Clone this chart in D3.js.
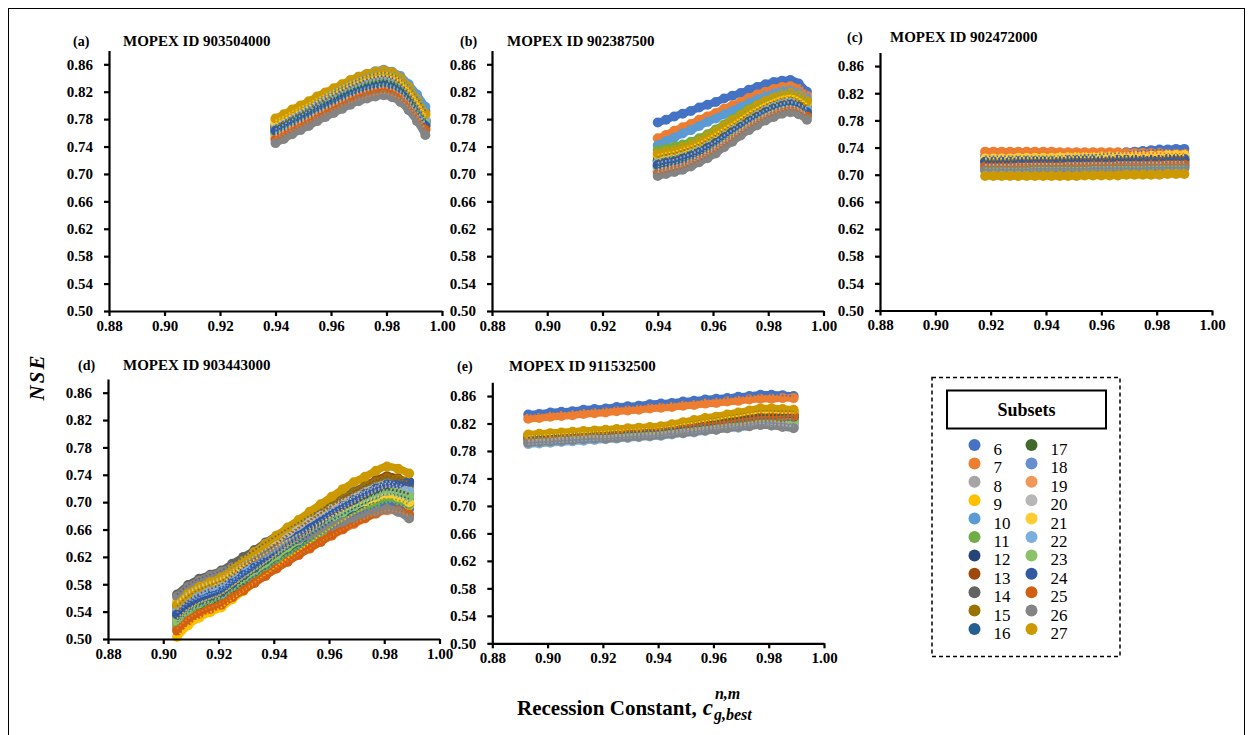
<!DOCTYPE html>
<html>
<head>
<meta charset="utf-8">
<script src="https://cdn.jsdelivr.net/npm/d3@7/dist/d3.min.js"></script>
<style>
  html, body { margin: 0; padding: 0; background: #fff; }
  svg { display: block; }
  text { font-family: "Liberation Serif", "Times New Roman", serif; }
</style>
</head>
<body>
<svg id="chart" width="1253" height="735"></svg>
<script>
// Calibration subsets (one series per subset) and their colours
const subsets = [6, 7, 8, 9, 10, 11, 12, 13, 14, 15, 16, 17, 18, 19, 20, 21, 22, 23, 24, 25, 26, 27];
const subsetColors = ["#4472C4", "#ED7D31", "#A5A5A5", "#FFC000", "#5B9BD5", "#70AD47",
  "#264478", "#9E480E", "#636363", "#997300", "#255E91", "#43682B",
  "#698ED0", "#F1975A", "#B7B7B7", "#FFCD33", "#7CAFDD", "#8CC168",
  "#335AA1", "#D26012", "#848484", "#CC9A00"];

const xTicks = [0.88, 0.90, 0.92, 0.94, 0.96, 0.98, 1.00];
const yTicks = [0.50, 0.54, 0.58, 0.62, 0.66, 0.70, 0.74, 0.78, 0.82, 0.86];

// Recession constant values tested in each basin
const xA = [0.940, 0.943, 0.946, 0.949, 0.952, 0.955, 0.958, 0.961, 0.964, 0.967, 0.970, 0.973, 0.976, 0.979, 0.982, 0.985, 0.988, 0.991, 0.994];
const xB = [0.940, 0.943, 0.946, 0.949, 0.952, 0.955, 0.958, 0.961, 0.964, 0.967, 0.970, 0.973, 0.976, 0.979, 0.982, 0.985, 0.988, 0.991, 0.994];
const xC = [0.918, 0.921, 0.924, 0.927, 0.930, 0.933, 0.936, 0.939, 0.942, 0.945, 0.948, 0.951, 0.954, 0.957, 0.960, 0.963, 0.966, 0.969, 0.972, 0.975, 0.978, 0.981, 0.984, 0.987, 0.990];
const xD = [0.905, 0.909, 0.913, 0.917, 0.921, 0.925, 0.929, 0.933, 0.937, 0.941, 0.945, 0.949, 0.953, 0.957, 0.961, 0.965, 0.969, 0.973, 0.977, 0.981, 0.985, 0.989];
const xE = [0.893, 0.897, 0.901, 0.905, 0.909, 0.913, 0.917, 0.921, 0.925, 0.929, 0.933, 0.937, 0.941, 0.945, 0.949, 0.953, 0.957, 0.961, 0.965, 0.969, 0.973, 0.977, 0.981, 0.985, 0.989];

// NSE (x1000) per subset, rows ordered as in `subsets`
const nseA = [
  [770,777,784,791,798,805,812,819,826,832,838,843,846,848,845,838,827,811,792],
  [752,758,764,770,776,782,788,794,800,805,809,813,816,818,815,809,798,783,765],
  [758,764,771,777,783,790,796,802,808,814,819,823,826,828,825,818,806,790,770],
  [778,784,791,797,803,810,816,822,828,834,839,843,846,848,845,837,824,807,786],
  [772,779,786,794,801,808,815,822,830,836,842,846,850,852,849,843,831,816,798],
  [762,769,776,782,789,796,803,809,816,822,827,832,835,837,834,827,815,798,778],
  [766,772,779,785,791,798,804,810,816,822,827,831,834,836,833,826,813,796,776],
  [768,775,782,788,795,802,809,815,822,828,833,838,841,843,840,832,819,801,780],
  [760,766,773,779,785,792,798,804,810,816,821,825,828,830,827,820,808,792,772],
  [770,776,783,789,795,802,808,814,820,826,831,835,838,840,837,829,816,799,778],
  [764,770,777,783,789,796,802,808,814,820,825,829,832,834,831,824,811,794,774],
  [767,773,780,786,792,799,805,811,817,823,828,832,835,837,834,827,814,797,777],
  [762,768,775,781,787,794,800,806,812,818,823,827,830,832,829,822,810,794,775],
  [756,762,769,775,781,788,794,800,806,812,817,821,824,826,823,816,804,788,768],
  [758,764,771,777,783,790,796,802,808,814,819,823,826,828,825,818,806,790,771],
  [774,780,787,793,799,806,812,818,824,830,835,839,842,844,841,834,821,804,784],
  [765,772,779,785,792,799,806,812,819,825,830,835,838,840,837,830,817,800,779],
  [760,766,773,779,785,792,798,804,810,816,821,825,828,830,827,820,808,792,773],
  [763,769,775,781,787,793,799,805,811,816,820,824,827,829,826,819,807,790,770],
  [750,756,763,769,775,782,788,794,800,806,811,815,818,820,817,810,799,783,764],
  [745,751,758,764,770,777,783,789,795,801,806,810,813,815,812,805,793,777,757],
  [781,787,794,800,806,813,819,825,831,837,842,846,849,851,848,840,827,809,788]
];

const nseB = [
  [775,779,784,788,792,797,801,805,810,814,818,823,827,831,834,836,837,832,820],
  [752,757,763,768,773,779,784,789,795,800,805,811,816,820,824,827,828,824,814],
  [708,711,714,717,722,727,734,741,749,758,766,774,782,788,794,798,800,796,788],
  [722,725,728,731,736,742,748,755,764,772,781,789,796,803,808,813,815,811,803],
  [742,748,753,759,764,770,776,781,787,792,798,804,809,814,818,821,822,818,810],
  [735,737,740,743,747,752,758,765,772,780,787,795,801,807,812,816,818,814,806],
  [712,715,717,721,726,731,737,745,753,761,769,778,785,791,797,801,803,800,793],
  [718,721,723,727,732,737,743,750,759,767,775,783,790,796,802,806,808,805,798],
  [704,707,710,713,718,724,730,737,746,754,763,771,778,785,790,795,797,794,787],
  [725,728,730,734,738,743,749,756,764,772,780,788,795,801,806,810,812,808,800],
  [710,713,716,719,724,729,736,743,751,760,768,776,784,790,796,800,802,799,791],
  [720,723,725,729,733,738,744,751,759,766,774,782,789,795,800,804,806,803,795],
  [714,717,719,723,727,733,739,746,754,762,770,778,785,791,797,801,803,800,793],
  [703,706,709,712,717,723,729,736,745,753,762,770,777,784,789,794,796,793,786],
  [706,709,712,715,720,726,732,739,748,756,765,773,780,787,792,797,799,796,788],
  [728,731,733,737,741,746,752,759,767,774,782,790,797,803,808,812,814,810,802],
  [716,719,721,725,729,735,741,748,756,764,772,780,787,793,799,803,805,802,795],
  [711,714,716,720,724,730,736,743,751,759,767,775,782,788,794,798,800,797,790],
  [713,716,718,722,726,731,738,745,753,761,768,776,783,790,795,799,801,798,790],
  [700,703,706,709,714,720,726,734,742,751,759,768,775,782,787,792,794,791,784],
  [697,700,703,706,711,717,723,730,739,747,756,764,771,778,783,788,790,787,779],
  [730,733,735,739,743,748,755,762,770,778,785,793,800,807,812,816,818,814,806]
];

const nseC = [
  [727,727,727,727,727,727,727,727,727,727,728,728,729,729,730,731,732,733,734,735,736,737,737,738,738],
  [734,734,734,734,734,734,734,734,734,733,733,733,733,733,733,733,733,732,732,732,732,732,731,731,731],
  [712,712,712,712,712,712,712,713,713,713,713,713,713,713,713,713,713,714,714,714,714,714,714,714,714],
  [722,722,722,722,723,723,723,723,723,724,724,724,724,724,725,725,725,725,726,726,726,726,727,727,727],
  [716,716,716,717,717,717,717,718,718,718,718,719,719,719,719,720,720,720,720,721,721,721,721,722,722],
  [708,708,708,708,709,709,709,709,709,709,710,710,710,710,710,710,711,711,711,711,711,711,712,712,712],
  [718,718,718,718,719,719,719,719,719,719,720,720,720,720,720,720,721,721,721,721,721,721,722,722,722],
  [720,720,720,721,721,721,721,722,722,722,722,723,723,723,723,724,724,724,724,725,725,725,725,726,726],
  [717,717,717,717,717,717,718,718,718,718,718,718,718,719,719,719,719,719,719,719,720,720,720,720,720],
  [721,721,721,721,721,721,722,722,722,722,722,722,722,723,723,723,723,723,723,723,724,724,724,724,724],
  [714,714,714,714,715,715,715,715,715,715,716,716,716,716,716,716,717,717,717,717,717,717,718,718,718],
  [711,711,711,711,711,711,712,712,712,712,712,712,712,713,713,713,713,713,713,713,714,714,714,714,714],
  [709,709,709,709,709,709,709,710,710,710,710,710,710,710,710,710,710,711,711,711,711,711,711,711,711],
  [713,713,713,713,713,713,714,714,714,714,714,714,714,715,715,715,715,715,715,715,716,716,716,716,716],
  [715,715,715,715,716,716,716,716,716,716,717,717,717,717,717,717,718,718,718,718,718,718,719,719,719],
  [724,724,724,724,725,725,725,725,725,726,726,726,726,726,727,727,727,727,728,728,728,728,729,729,729],
  [706,706,706,706,706,706,707,707,707,707,707,707,707,708,708,708,708,708,708,708,709,709,709,709,709],
  [710,710,710,710,710,710,711,711,711,711,711,711,711,712,712,712,712,712,712,712,713,713,713,713,713],
  [719,719,719,719,720,720,720,720,720,720,721,721,721,721,721,721,722,722,722,722,722,722,723,723,723],
  [712,712,712,712,712,712,713,713,713,713,713,713,713,714,714,714,714,714,714,714,715,715,715,715,715],
  [707,707,707,707,707,707,708,708,708,708,708,708,708,709,709,709,709,709,709,709,710,710,710,710,710],
  [698,698,698,698,698,698,698,698,698,698,698,698,699,699,699,699,699,700,700,700,700,700,701,701,701]
];

const nseD = [
  [525,539,548,554,560,571,581,592,602,613,623,633,643,652,662,671,680,687,694,700,697,690],
  [515,530,539,546,552,562,572,583,593,603,613,623,632,642,651,660,668,676,683,688,686,680],
  [550,564,573,579,585,596,607,618,629,639,650,660,671,681,691,700,709,717,724,730,727,720],
  [503,520,531,539,546,558,570,582,594,606,618,629,640,652,663,673,683,692,700,706,703,695],
  [545,555,561,566,570,581,591,602,613,623,634,644,654,664,674,683,691,699,706,712,708,700],
  [520,535,545,552,558,569,580,591,602,613,624,634,645,655,665,675,684,692,699,705,703,697],
  [535,549,558,564,570,581,592,603,614,626,637,647,657,668,678,688,697,705,712,718,716,712],
  [540,556,566,573,580,592,604,616,627,639,651,662,673,684,695,706,715,724,732,738,735,728],
  [565,579,588,594,600,610,620,630,641,651,661,670,680,689,699,707,715,723,730,735,732,725],
  [548,563,572,579,585,596,608,619,630,641,653,663,674,684,695,704,713,722,729,735,733,730],
  [532,546,554,560,566,577,588,599,610,621,632,642,652,662,673,682,691,699,706,712,710,705],
  [528,542,550,556,562,574,586,598,609,621,633,644,655,666,677,688,697,706,714,720,718,713],
  [538,552,560,566,572,583,594,604,615,626,637,647,657,667,677,687,695,703,710,716,714,708],
  [530,544,553,559,565,577,589,600,612,624,636,647,658,669,680,690,699,708,716,722,720,715],
  [555,569,578,584,590,600,611,621,631,641,652,661,671,680,690,699,707,715,722,727,724,716],
  [553,567,576,582,588,597,607,616,625,635,644,653,661,670,679,687,694,701,707,712,708,700],
  [543,556,564,570,575,586,597,609,620,631,642,653,663,673,684,694,702,711,718,724,721,715],
  [526,542,552,559,566,577,589,600,611,622,634,644,655,665,676,685,694,703,710,716,714,708],
  [536,549,557,563,569,581,593,604,616,628,640,651,662,673,684,694,703,712,720,726,727,730],
  [512,527,537,544,550,561,571,582,592,603,613,623,633,642,652,661,670,677,684,690,688,682],
  [562,576,585,592,598,605,612,619,626,633,639,646,652,659,665,671,677,682,686,690,686,676],
  [550,566,576,583,590,602,614,627,639,651,663,674,686,697,708,719,729,737,746,752,749,742]
];

const nseE = [
  [833,834,836,837,838,840,841,842,844,845,846,848,849,850,852,853,855,856,857,859,860,862,862,861,860],
  [827,828,830,831,832,834,835,836,838,839,840,842,843,844,846,847,849,850,852,853,855,856,856,857,857],
  [795,796,797,798,799,800,801,801,802,803,804,805,806,808,809,811,812,814,815,817,818,820,820,819,818],
  [800,801,802,803,804,805,806,806,807,808,809,810,811,813,815,817,819,822,824,826,828,830,830,831,832],
  [797,798,799,800,801,802,803,803,804,805,806,807,808,810,812,814,816,818,820,822,824,826,826,826,826],
  [799,800,801,802,803,804,805,805,806,807,808,809,810,812,814,816,818,819,821,823,825,827,827,828,829],
  [801,802,803,804,805,806,807,807,808,809,810,811,812,814,816,819,821,823,825,828,830,832,832,833,833],
  [802,803,804,805,806,807,808,808,809,810,811,812,813,815,818,820,822,825,827,829,832,834,834,834,834],
  [798,799,800,801,802,803,804,804,805,806,807,808,809,811,813,814,816,818,820,821,823,825,825,824,824],
  [803,804,805,806,807,808,809,810,811,812,813,814,815,818,820,823,825,828,830,833,835,838,838,838,838],
  [800,801,802,803,804,805,806,806,807,808,809,810,811,813,815,818,820,822,824,827,829,831,831,832,832],
  [801,802,803,804,805,806,807,807,808,809,810,811,812,814,817,819,821,824,826,828,831,833,832,831,829],
  [794,795,796,797,798,799,800,800,801,802,803,804,805,807,809,810,812,814,816,817,819,821,821,820,819],
  [796,797,798,799,800,801,802,802,803,804,805,806,807,809,811,812,814,816,818,819,821,823,823,822,822],
  [793,794,795,796,797,798,799,799,800,801,802,803,804,806,807,809,811,812,814,816,817,819,818,817,816],
  [802,803,804,805,806,807,808,809,810,811,812,813,814,816,819,821,824,826,829,831,834,836,836,835,835],
  [790,791,792,793,794,795,796,797,798,799,800,801,802,804,806,807,809,811,813,814,816,818,817,816,814],
  [797,798,799,800,801,802,803,803,804,805,806,807,808,810,812,813,815,817,819,820,822,824,824,823,823],
  [799,800,801,802,803,804,805,805,806,807,808,809,810,812,814,816,818,820,822,824,826,828,828,829,830],
  [798,799,800,802,803,804,805,806,807,809,810,811,812,814,816,818,820,821,823,825,827,829,829,830,831],
  [792,793,794,795,796,797,798,798,799,800,801,802,803,805,806,808,810,811,813,815,816,818,817,815,813],
  [804,805,806,807,808,809,810,811,812,813,814,815,816,819,822,825,828,830,833,836,839,842,842,841,840]
];

// Panel layout
const panels = [
  { tag: "(a)", title: "MOPEX ID 903504000", xs: xA, ys: nseA, l: 109, r: 442, t: 50.6, b: 311, tagX: 73, titleX: 123, titleY: 46 },
  { tag: "(b)", title: "MOPEX ID 902387500", xs: xB, ys: nseB, l: 492, r: 823.5, t: 50.6, b: 311, tagX: 460, titleX: 507, titleY: 46 },
  { tag: "(c)", title: "MOPEX ID 902472000", xs: xC, ys: nseC, l: 880, r: 1212, t: 52.5, b: 310.5, tagX: 847, titleX: 890, titleY: 42 },
  { tag: "(d)", title: "MOPEX ID 903443000", xs: xD, ys: nseD, l: 108, r: 439.5, t: 379, b: 639, tagX: 78, titleX: 123, titleY: 370 },
  { tag: "(e)", title: "MOPEX ID 911532500", xs: xE, ys: nseE, l: 492.3, r: 824, t: 382.3, b: 643.3, tagX: 457, titleX: 509, titleY: 371 }
];

const svg = d3.select("#chart");

// figure frame
svg.append("rect")
  .attr("x", 8.5).attr("y", 8.5).attr("width", 1236).attr("height", 740)
  .attr("fill", "none").attr("stroke", "#000").attr("stroke-width", 1);

const fmt = d3.format(".2f");

panels.forEach(p => {
  const x = d3.scaleLinear().domain([0.88, 1.00]).range([p.l, p.r]);
  const y = d3.scaleLinear().domain([0.50, 0.88]).range([p.b, p.t]);
  const g = svg.append("g");
  const line = d3.line().x(d => x(d[0])).y(d => y(d[1])).curve(d3.curveMonotoneX);
  const series = p.ys.map(vals => vals.map((v, k) => [p.xs[k], v / 1000]));

  // overlapping markers of each subset, drawn in subset order
  series.forEach((pts, i) => {
    const s = g.append("g");
    s.append("path").datum(pts).attr("d", line)
      .attr("fill", "none").attr("stroke", subsetColors[i])
      .attr("stroke-width", 7.5).attr("stroke-linejoin", "round").attr("stroke-linecap", "round");
    s.selectAll("circle").data(pts).join("circle")
      .attr("cx", d => x(d[0])).attr("cy", d => y(d[1]))
      .attr("r", 5).attr("fill", subsetColors[i]);
  });
  // dotted connecting lines on top
  series.forEach((pts, i) => {
    g.append("path").datum(pts).attr("d", line)
      .attr("fill", "none").attr("stroke", subsetColors[i])
      .attr("stroke-width", 1.8).attr("stroke-dasharray", "1.6,2.2");
  });

  // axes
  const ax = g.append("g").attr("transform", `translate(0,${p.b})`)
    .call(d3.axisBottom(x).tickValues(xTicks).tickFormat(fmt).tickSize(5).tickSizeOuter(0).tickPadding(4));
  const ay = g.append("g").attr("transform", `translate(${p.l},0)`)
    .call(d3.axisLeft(y).tickValues(yTicks).tickFormat(fmt).tickSize(5).tickSizeOuter(0).tickPadding(11));
  [ax, ay].forEach(a => {
    a.select(".domain").attr("stroke", "#000").attr("stroke-width", 2.2);
    a.selectAll(".tick line").attr("stroke", "#000").attr("stroke-width", 2.2);
    a.selectAll(".tick text").attr("fill", "#000")
      .style("font-family", "'Liberation Serif', 'Times New Roman', serif")
      .style("font-size", "15px").style("font-weight", "bold");
  });

  // panel headings
  g.append("text").attr("x", p.tagX).attr("y", p.titleY)
    .style("font-size", "14px").style("font-weight", "bold").text(p.tag);
  g.append("text").attr("x", p.titleX).attr("y", p.titleY)
    .style("font-size", "15px").style("font-weight", "bold").text(p.title);
});

// y-axis title
svg.append("text")
  .attr("transform", "translate(44,377) rotate(-90)")
  .attr("text-anchor", "middle")
  .style("font-size", "21px").style("font-weight", "bold").style("font-style", "italic")
  .style("letter-spacing", "2px")
  .text("NSE");

// x-axis title with symbol c_{g,best}^{n,m}
const xt = svg.append("text").attr("x", 517).attr("y", 715)
  .style("font-size", "21px").style("font-weight", "bold")
  .text("Recession Constant,");
const xtw = xt.node().getComputedTextLength();
const cx0 = 517 + xtw + 6;
const cSym = svg.append("text").attr("x", cx0).attr("y", 715)
  .style("font-size", "23px").style("font-weight", "bold").style("font-style", "italic")
  .text("c");
const cw = cSym.node().getComputedTextLength();
svg.append("text").attr("x", cx0 + cw + 2).attr("y", 699)
  .style("font-size", "16px").style("font-weight", "bold").style("font-style", "italic")
  .text("n,m");
svg.append("text").attr("x", cx0 + cw + 1).attr("y", 720)
  .style("font-size", "16px").style("font-weight", "bold").style("font-style", "italic")
  .text("g,best");

// legend
const lg = svg.append("g");
lg.append("rect").attr("x", 932).attr("y", 377.5).attr("width", 188).attr("height", 279)
  .attr("fill", "#fff").attr("stroke", "#000").attr("stroke-width", 1.5)
  .attr("stroke-dasharray", "4,3");
lg.append("rect").attr("x", 947).attr("y", 390.5).attr("width", 159).attr("height", 38)
  .attr("fill", "#fff").attr("stroke", "#000").attr("stroke-width", 2);
lg.append("text").attr("x", 1026.5).attr("y", 416).attr("text-anchor", "middle")
  .style("font-size", "18px").style("font-weight", "bold").text("Subsets");

const rowY = d3.scaleLinear().domain([0, 10]).range([445, 629]);
subsets.forEach((s, i) => {
  const col = i < 11 ? 0 : 1;
  const row = i % 11;
  const mx = col === 0 ? 974.5 : 1031.5;
  const lx = col === 0 ? 993.5 : 1050.5;
  lg.append("circle").attr("cx", mx).attr("cy", rowY(row)).attr("r", 6).attr("fill", subsetColors[i]);
  lg.append("text").attr("x", lx).attr("y", rowY(row) + 10)
    .style("font-size", "17px").text(s);
});
</script>
</body>
</html>
